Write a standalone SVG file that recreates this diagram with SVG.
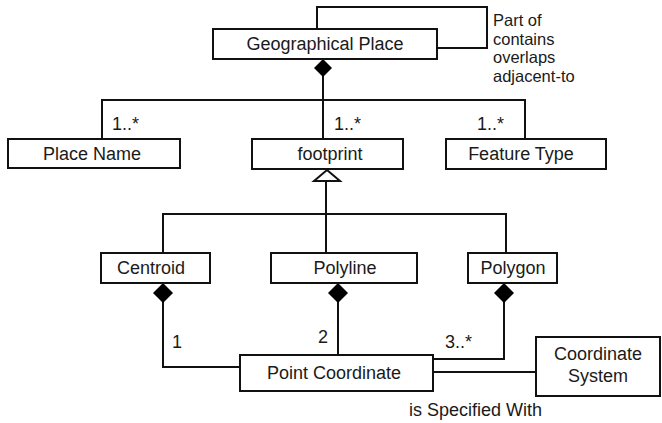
<svg xmlns="http://www.w3.org/2000/svg" width="662" height="423" viewBox="0 0 662 423">
  <style>
    .box { fill: #fff; stroke: #111; stroke-width: 2; }
    .lbl { font-family: "Liberation Sans", Arial, sans-serif; font-size: 18px; fill: #1a1a1a; }
    .roles { font-size: 16.5px; }
    .mid { text-anchor: middle; }
    .wire { fill: none; stroke: #111; stroke-width: 2; }
    .dia { fill: #000; stroke: none; }
    .tri { fill: #fff; stroke: #111; stroke-width: 2; }
  </style>
  <rect width="662" height="423" fill="#fff"/>

  <!-- connectors -->
  <g id="connectors">
    <!-- self association on Geographical Place -->
    <path class="wire" d="M317,29 V7 H487 V48 H437"/>
    <!-- composition: Geographical Place to its parts -->
    <path class="wire" d="M323,76 V139 M102,139 V100 H525 V139"/>
    <path class="dia" d="M323,59 L332,68 L323,77 L314,68 Z"/>
    <!-- generalisation: footprint subtypes -->
    <path class="wire" d="M326,181 V253 M163,253 V214 H506 V253"/>
    <path class="tri" d="M327,170 L340,181 L314,181 Z"/>
    <!-- compositions to Point Coordinate -->
    <path class="wire" d="M163,302 V367 H240"/>
    <path class="wire" d="M338,302 V355"/>
    <path class="wire" d="M504,302 V359 H433"/>
    <path class="dia" d="M163,283 L173,293 L163,303 L153,293 Z"/>
    <path class="dia" d="M338,283 L348,293 L338,303 L328,293 Z"/>
    <path class="dia" d="M504,283 L514,293 L504,303 L494,293 Z"/>
    <!-- Point Coordinate to Coordinate System -->
    <path class="wire" d="M433,372 H536"/>
  </g>

  <!-- association and multiplicity labels -->
  <g id="labels">
    <text class="lbl roles" x="493" y="26">Part of</text>
    <text class="lbl roles" x="493" y="44.5">contains</text>
    <text class="lbl roles" x="493" y="63">overlaps</text>
    <text class="lbl roles" x="493" y="81.5">adjacent-to</text>
    <text class="lbl" x="112" y="130">1..*</text>
    <text class="lbl" x="334" y="130">1..*</text>
    <text class="lbl" x="477" y="130">1..*</text>
    <text class="lbl" x="172" y="348">1</text>
    <text class="lbl" x="318" y="343">2</text>
    <text class="lbl" x="445" y="348">3..*</text>
    <text class="lbl" x="409" y="416">is Specified With</text>
  </g>

  <g id="geographical-place">
    <rect class="box" x="213" y="29" width="224" height="30"/>
    <text class="lbl mid" x="325" y="50">Geographical Place</text>
  </g>
  <g id="place-name">
    <rect class="box" x="8" y="139" width="172" height="29"/>
    <text class="lbl mid" x="92" y="160">Place Name</text>
  </g>
  <g id="footprint">
    <rect class="box" x="252" y="139" width="151" height="30"/>
    <text class="lbl mid" x="330" y="160">footprint</text>
  </g>
  <g id="feature-type">
    <rect class="box" x="446" y="139" width="160" height="30"/>
    <text class="lbl mid" x="521" y="160">Feature Type</text>
  </g>
  <g id="centroid">
    <rect class="box" x="101" y="253" width="109" height="30"/>
    <text class="lbl mid" x="151" y="274">Centroid</text>
  </g>
  <g id="polyline">
    <rect class="box" x="271" y="253" width="146" height="30"/>
    <text class="lbl mid" x="345" y="274">Polyline</text>
  </g>
  <g id="polygon">
    <rect class="box" x="468" y="253" width="89" height="30"/>
    <text class="lbl mid" x="513" y="274">Polygon</text>
  </g>
  <g id="point-coordinate">
    <rect class="box" x="240" y="355" width="193" height="36"/>
    <text class="lbl mid" x="334" y="379">Point Coordinate</text>
  </g>
  <g id="coordinate-system">
    <rect class="box" x="536" y="337" width="124" height="59"/>
    <text class="lbl mid" x="598" y="360">Coordinate</text>
    <text class="lbl mid" x="598" y="382">System</text>
  </g>
</svg>
